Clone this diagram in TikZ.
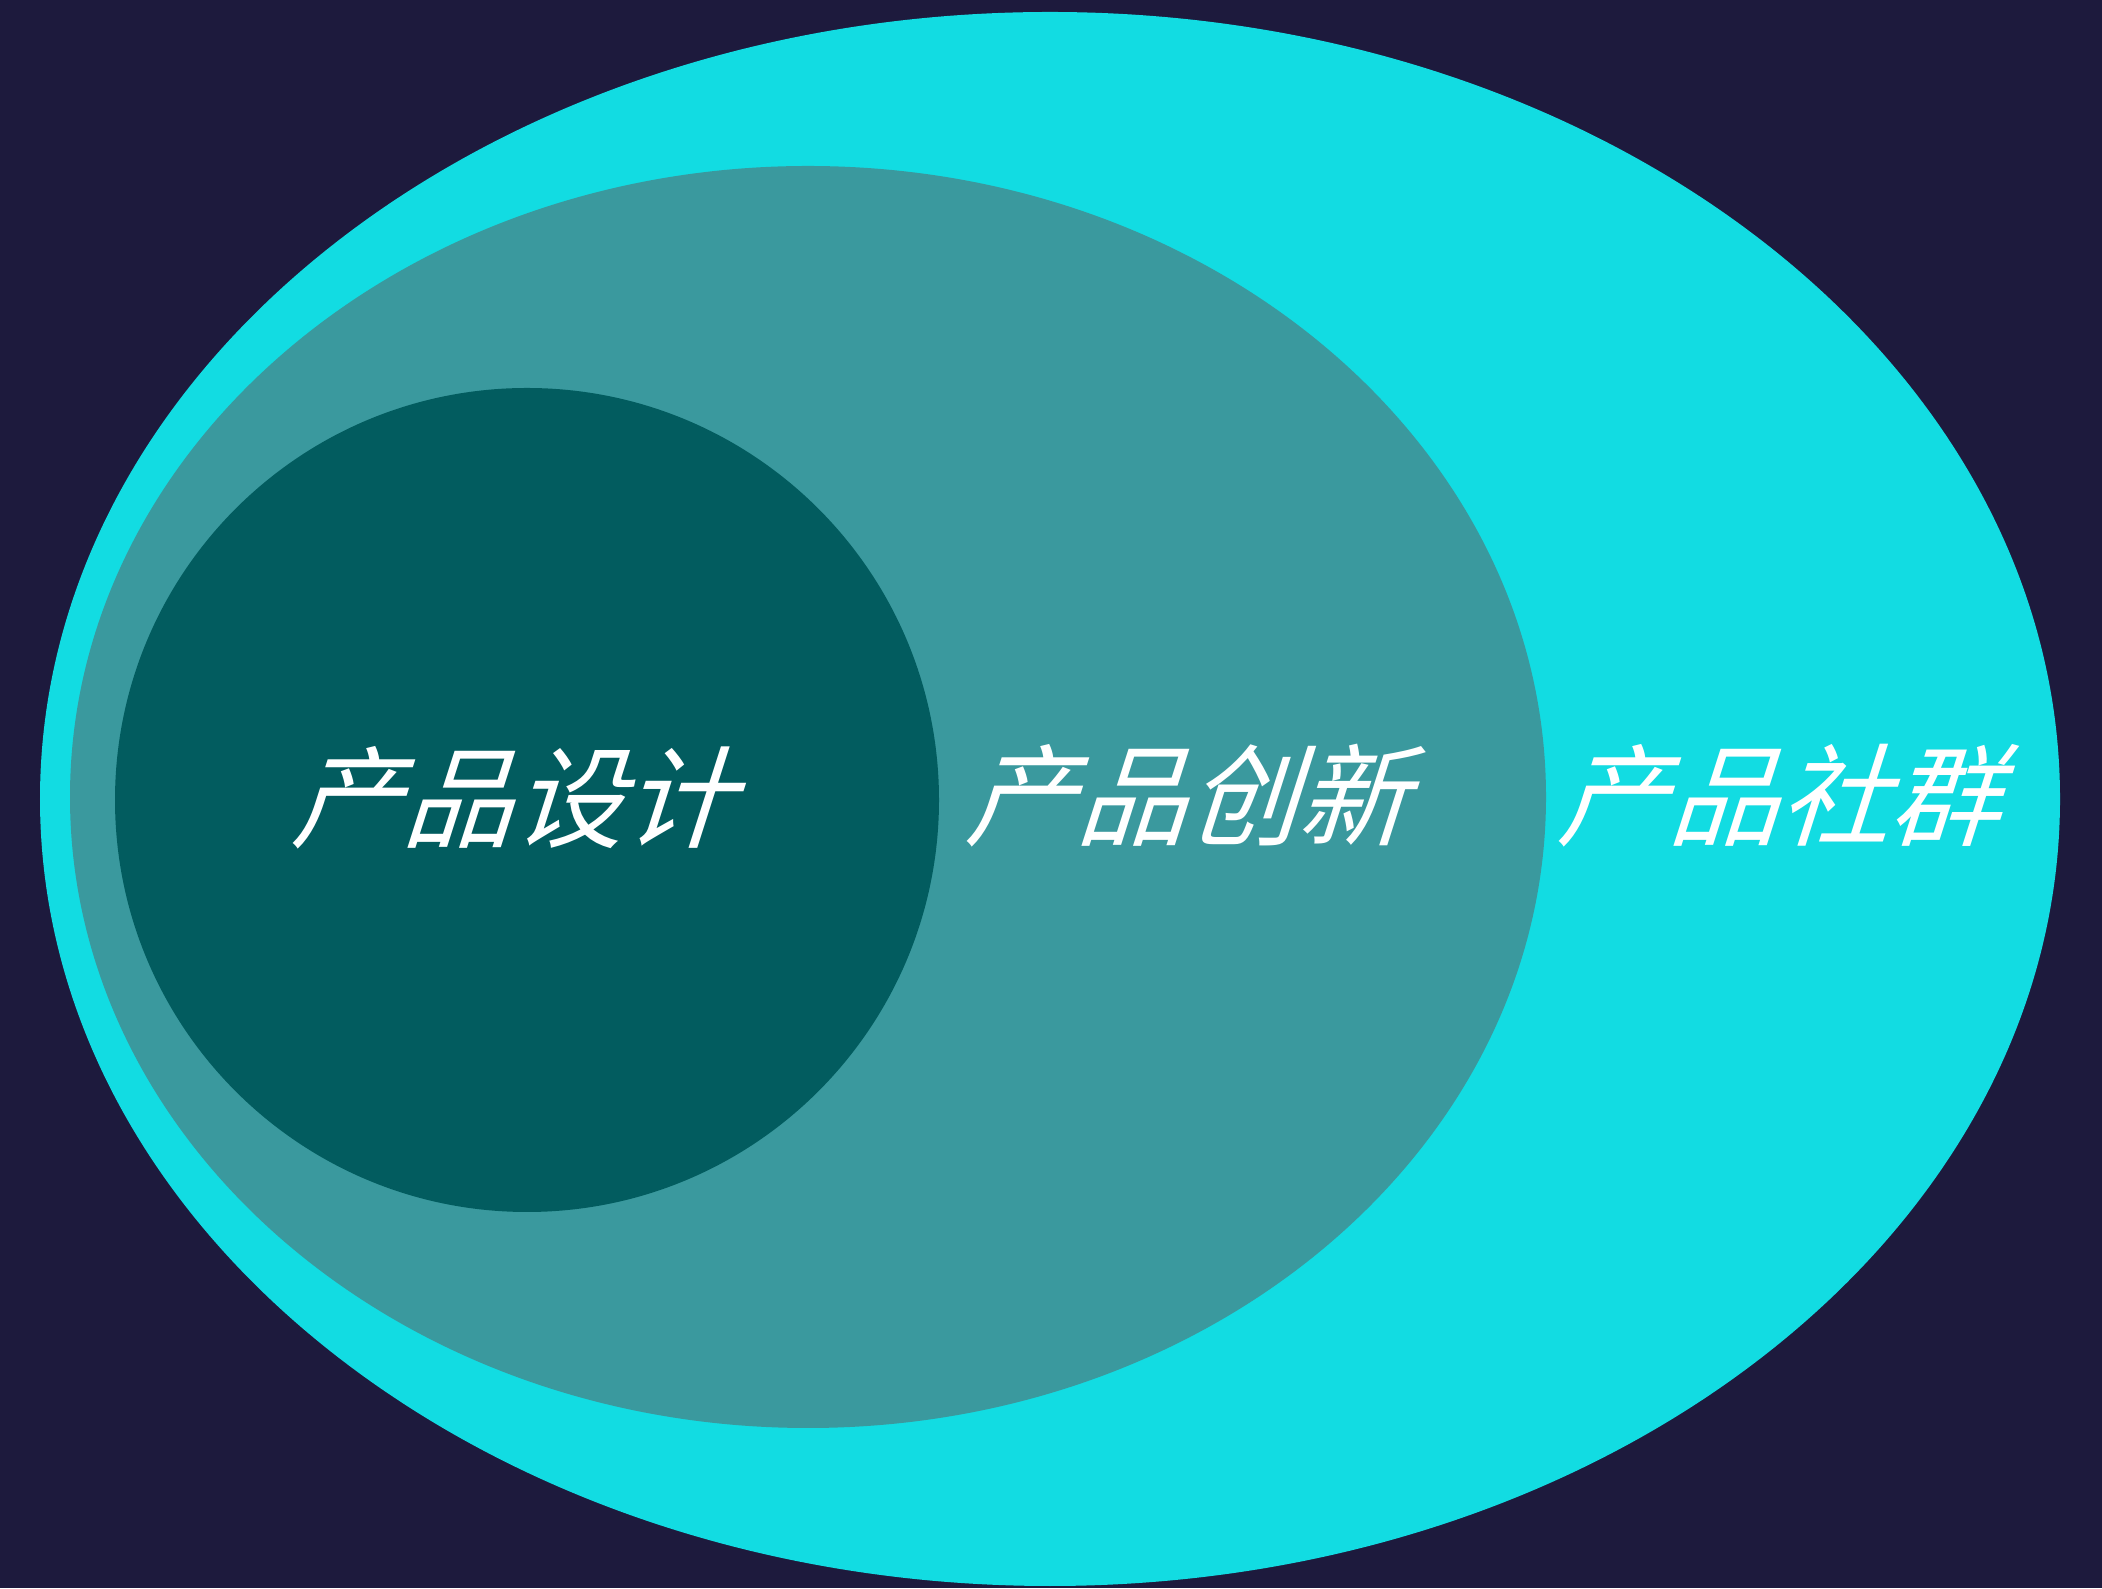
\documentclass[tikz,border=0pt]{standalone}
\usepackage{fontspec}
\newfontfamily\cjkslant[FakeSlant=0.32]{Noto Sans CJK SC}
\definecolor{bgnavy}{HTML}{1D1A3D}
\definecolor{outercyan}{HTML}{12DCE2}
\definecolor{midteal}{HTML}{3A999E}
\definecolor{innerteal}{HTML}{025C5F}
\begin{document}
\begin{tikzpicture}
\tikzset{
  lbl/.style={text=white, font=\cjkslant\fontsize{31.5}{38}\selectfont, inner sep=0pt},
}
\fill[bgnavy] (0,0) rectangle (21.02,15.88);
\useasboundingbox (0,0) rectangle (21.02,15.88);
\fill[outercyan] (10.50,7.89) ellipse [x radius=10.10cm, y radius=7.87cm];
\fill[midteal] (8.08,7.91) ellipse [x radius=7.38cm, y radius=6.31cm];
\fill[innerteal] (5.27,7.88) circle [radius=4.12cm];
\node[lbl] (design) at (5.12,7.90) {产品设计};
\node[lbl] (innov) at (11.86,7.92) {产品创新};
\node[lbl] (comm) at (17.78,7.92) {产品社群};
\end{tikzpicture}
\end{document}
